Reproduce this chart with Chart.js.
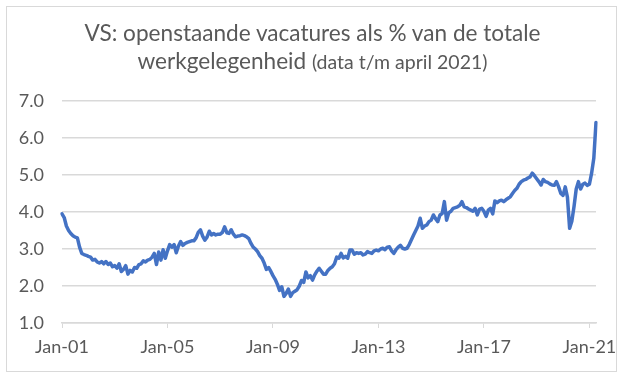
<!DOCTYPE html>
<html>
<head>
<meta charset="utf-8">
<script src="https://cdn.jsdelivr.net/npm/chart.js@4"></script>
<style>
  html, body { margin: 0; padding: 0; background: #ffffff; }
  #wrap { position: relative; width: 625px; height: 380px; overflow: hidden; }
  #frame { position: absolute; left: 6px; top: 6px; width: 609px; height: 364px; border: 1px solid #d9d9d9; }
  #title { position: absolute; left: 0; top: 19px; width: 625px; text-align: center; color: #595959;
           font-family: Lato, "Open Sans", sans-serif; font-size: 22.6px; line-height: 28px; }
  #title .sub { font-size: 19.5px; }
  canvas { position: absolute; left: 0; top: 0; }
</style>
</head>
<body>
<div id="wrap">
  <div id="frame"></div>
  <canvas id="c" width="625" height="380"></canvas>
  <div id="title">VS: openstaande vacatures als % van de totale<br>werkgelegenheid <span class="sub">(data t/m april 2021)</span></div>
</div>
<script>
// Monthly observations, Jan 2001 .. Apr 2021 (job openings as % of total employment)
const values = [
  3.95, 3.85, 3.62, 3.50, 3.42, 3.36, 3.32, 3.30, 3.05, 2.88, 2.85, 2.83, // 2001
  2.80, 2.78, 2.70, 2.72, 2.65, 2.62, 2.66, 2.60, 2.66, 2.58, 2.62, 2.52, // 2002
  2.55, 2.48, 2.60, 2.39, 2.45, 2.55, 2.32, 2.42, 2.38, 2.50, 2.48, 2.58, // 2003
  2.60, 2.68, 2.65, 2.70, 2.72, 2.78, 2.88, 2.58, 2.92, 2.70, 2.98, 2.75, // 2004
  2.95, 3.12, 3.05, 3.12, 2.90, 3.08, 3.20, 3.10, 3.15, 3.18, 3.20, 3.22, // 2005
  3.22, 3.30, 3.45, 3.52, 3.35, 3.24, 3.32, 3.48, 3.38, 3.42, 3.38, 3.40, // 2006
  3.40, 3.45, 3.60, 3.44, 3.42, 3.52, 3.40, 3.33, 3.35, 3.36, 3.38, 3.36, // 2007
  3.33, 3.28, 3.15, 3.05, 3.00, 2.93, 2.82, 2.75, 2.62, 2.45, 2.50, 2.40, // 2008
  2.28, 2.18, 2.05, 1.88, 1.98, 1.72, 1.80, 1.92, 1.72, 1.82, 1.86, 1.90, // 2009
  2.00, 2.15, 2.10, 2.38, 2.22, 2.28, 2.16, 2.30, 2.40, 2.48, 2.40, 2.32, // 2010
  2.32, 2.42, 2.48, 2.52, 2.60, 2.78, 2.75, 2.88, 2.76, 2.80, 2.75, 2.97, // 2011
  2.97, 2.86, 2.90, 2.88, 2.90, 2.84, 2.86, 2.93, 2.90, 2.88, 2.95, 2.97, // 2012
  2.95, 3.00, 3.02, 2.98, 3.05, 3.06, 2.95, 2.88, 2.98, 3.05, 3.10, 3.02, // 2013
  3.00, 3.02, 3.12, 3.25, 3.38, 3.50, 3.62, 3.83, 3.56, 3.62, 3.65, 3.74, // 2014
  3.78, 3.92, 3.82, 3.74, 3.92, 3.96, 4.28, 3.78, 3.98, 4.02, 4.10, 4.12, // 2015
  4.14, 4.18, 4.28, 4.14, 4.12, 4.08, 4.05, 4.02, 4.10, 3.92, 4.08, 4.10, // 2016
  4.02, 3.88, 4.05, 4.10, 3.95, 4.30, 4.25, 4.30, 4.32, 4.28, 4.33, 4.37, // 2017
  4.41, 4.50, 4.58, 4.64, 4.75, 4.82, 4.86, 4.88, 4.92, 4.95, 5.05, 4.98, // 2018
  4.90, 4.82, 4.73, 4.88, 4.82, 4.80, 4.76, 4.73, 4.72, 4.82, 4.68, 4.50, // 2019
  4.45, 4.68, 4.40, 3.56, 3.75, 4.15, 4.62, 4.82, 4.62, 4.75, 4.78, 4.72, // 2020
  4.75, 5.05, 5.45, 6.42                                                  // 2021
];

const monthNames = ['Jan','Feb','Mar','Apr','May','Jun','Jul','Aug','Sep','Oct','Nov','Dec'];
const years = ['01','02','03','04','05','06','07','08','09','10','11','12','13','14','15','16','17','18','19','20','21'];
const categories = [];
years.forEach(y => monthNames.forEach(m => categories.push(m + '-' + y)));
categories.length = values.length;

const tickLabels = ['Jan-01','Jan-05','Jan-09','Jan-13','Jan-17','Jan-21'];
const yTicks = [1, 2, 3, 4, 5, 6, 7];

const textColor = '#595959';
const gridColor = '#d9d9d9';
const fontFamily = 'Lato, "Open Sans", sans-serif';

new Chart(document.getElementById('c'), {
  type: 'line',
  data: {
    labels: categories,
    datasets: [{
      data: values,
      borderColor: '#4472C4',
      borderWidth: 3.5,
      pointRadius: 0,
      tension: 0,
      fill: false,
      borderJoinStyle: 'round',
      borderCapStyle: 'round'
    }]
  },
  options: {
    responsive: false,
    animation: false,
    layout: { padding: { left: 10, right: 29, top: 101, bottom: 10 } },
    plugins: { legend: { display: false }, tooltip: { enabled: false }, title: { display: false } },
    scales: {
      x: {
        type: 'category',
        offset: false,
        grid: {
          display: true,
          drawOnChartArea: false,
          drawTicks: true,
          tickLength: 5,
          lineWidth: 1,
          color: ctx => tickLabels.includes(categories[ctx.index]) ? gridColor : 'rgba(0,0,0,0)'
        },
        border: { display: true, color: gridColor, width: 1.5 },
        ticks: {
          autoSkip: false,
          maxRotation: 0,
          minRotation: 0,
          padding: 8,
          color: textColor,
          font: { family: fontFamily, size: 18 },
          callback: function (v, i) { const l = categories[i]; return tickLabels.includes(l) ? l : ''; }
        },
        afterFit: s => { s.height = 47; }
      },
      y: {
        min: yTicks[0],
        max: yTicks[yTicks.length - 1],
        grid: { color: gridColor, lineWidth: 1.5, drawTicks: false },
        border: { display: false },
        ticks: {
          stepSize: 1,
          padding: 18,
          color: textColor,
          font: { family: fontFamily, size: 18 },
          callback: v => Number(v).toFixed(1)
        },
        afterFit: s => { s.width = 52; }
      }
    }
  }
});
</script>
</body>
</html>
